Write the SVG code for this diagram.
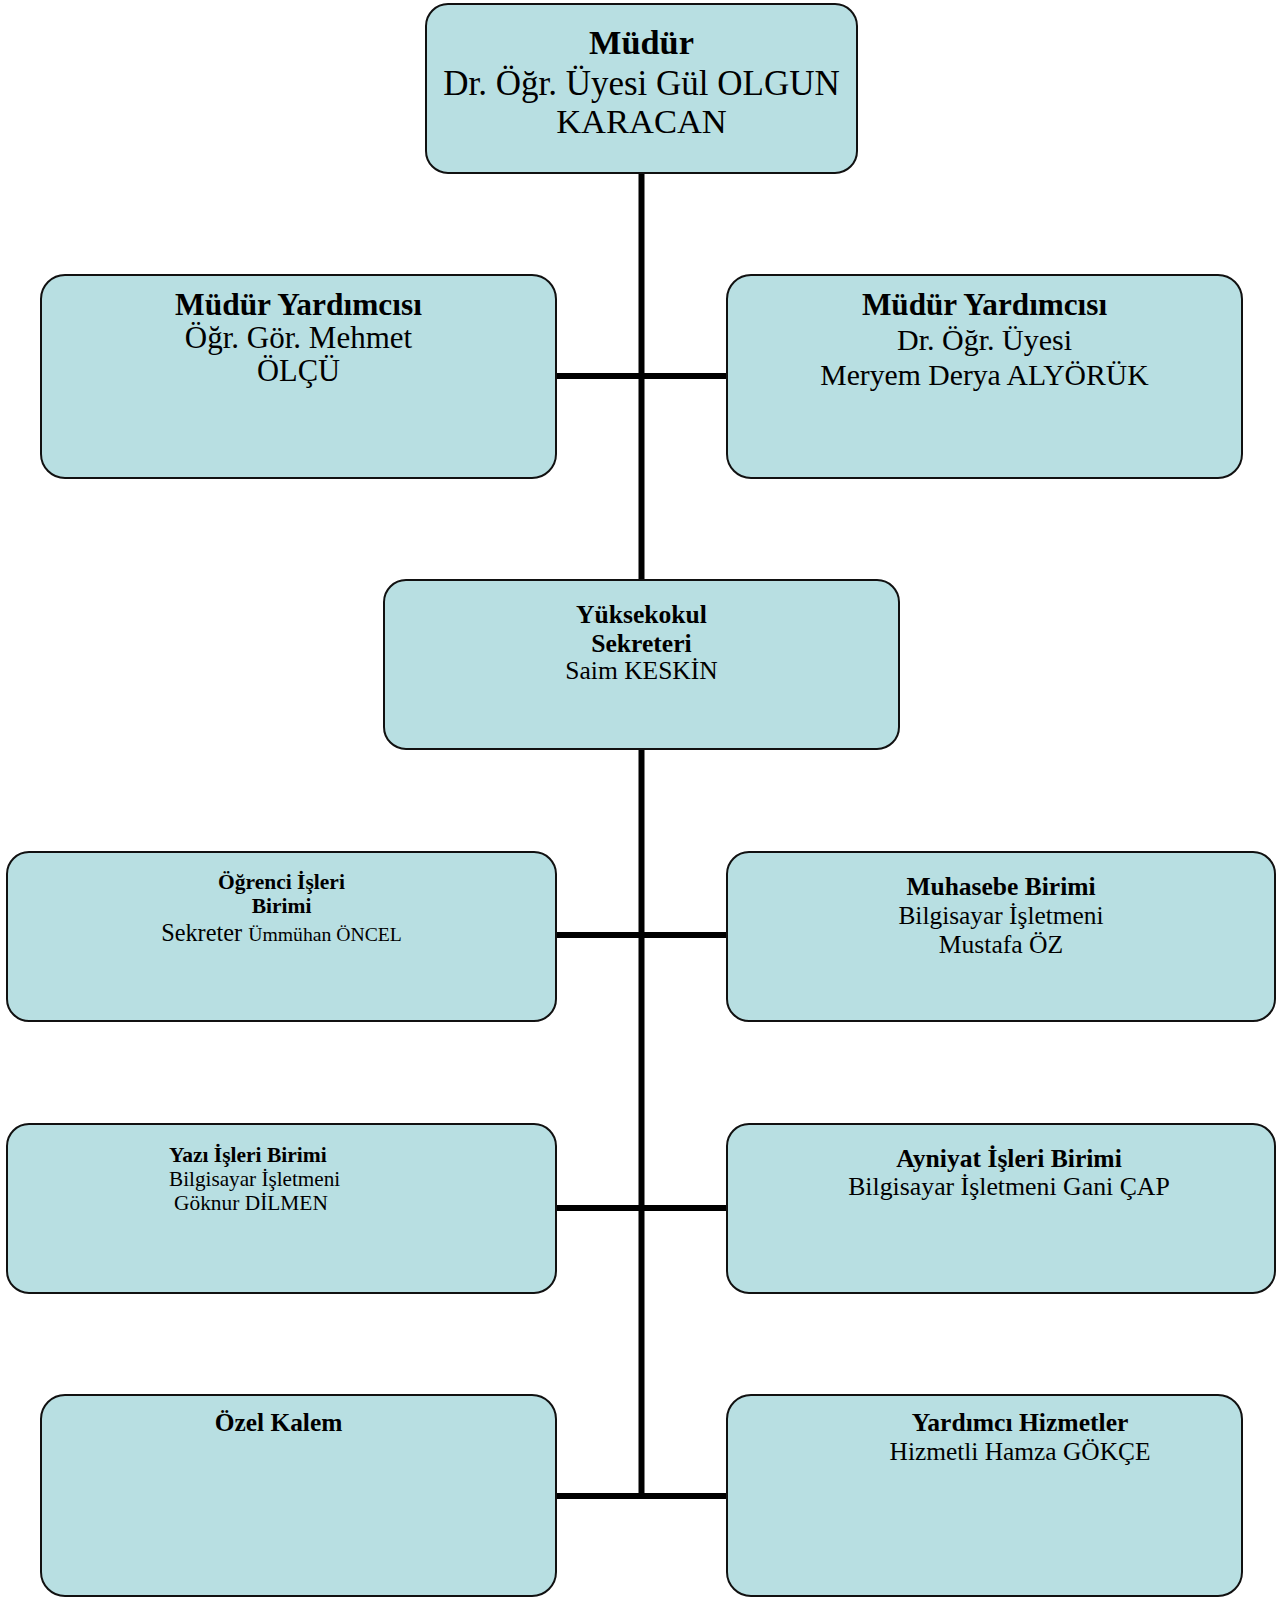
<svg xmlns="http://www.w3.org/2000/svg" width="1278" height="1597" viewBox="0 0 1278 1597">
<style>
.box{fill:#b8dfe2;stroke:#111;stroke-width:2}
.t{font-family:"Liberation Serif","Times New Roman",serif;fill:#000;text-anchor:middle}
.s{text-anchor:start}
.b{font-weight:bold}
.conn{stroke:#000;stroke-width:6;fill:none}
</style>
<rect width="1278" height="1597" fill="#fff"/>
<g id="connectors">
<line class="conn" x1="641.5" y1="172" x2="641.5" y2="580"/>
<line class="conn" x1="641.5" y1="748" x2="641.5" y2="1499"/>
<line class="conn" x1="556" y1="376" x2="727" y2="376"/>
<line class="conn" x1="556" y1="935" x2="727" y2="935"/>
<line class="conn" x1="556" y1="1208" x2="727" y2="1208"/>
<line class="conn" x1="556" y1="1496" x2="727" y2="1496"/>
</g>
<g id="mudur">
<rect class="box" x="426" y="4" width="431" height="169" rx="22"/>
<text class="t b" x="641.5" y="54" font-size="34.3">Müdür</text>
<text class="t" x="641.5" y="95" font-size="35">Dr. Öğr. Üyesi Gül OLGUN</text>
<text class="t" x="641.5" y="133" font-size="34.5">KARACAN</text>
</g>
<g id="mudur-yrd-1">
<rect class="box" x="41" y="275" width="515" height="203" rx="24"/>
<text class="t b" x="298.5" y="315" font-size="31.4">Müdür Yardımcısı</text>
<text class="t" x="298.5" y="348" font-size="31">Öğr. Gör. Mehmet</text>
<text class="t" x="298.5" y="381" font-size="30.5">ÖLÇÜ</text>
</g>
<g id="mudur-yrd-2">
<rect class="box" x="727" y="275" width="515" height="203" rx="24"/>
<text class="t b" x="984.5" y="315" font-size="31.2">Müdür Yardımcısı</text>
<text class="t" x="984.5" y="350" font-size="30">Dr. Öğr. Üyesi</text>
<text class="t" x="984.5" y="385" font-size="29.7">Meryem Derya ALYÖRÜK</text>
</g>
<g id="sekreter">
<rect class="box" x="384" y="580" width="515" height="169" rx="22"/>
<text class="t b" x="641.5" y="623" font-size="25.6">Yüksekokul</text>
<text class="t b" x="641.5" y="652" font-size="25.6">Sekreteri</text>
<text class="t" x="641.5" y="679" font-size="25.5">Saim KESKİN</text>
</g>
<g id="ogrenci-isleri">
<rect class="box" x="7" y="852" width="549" height="169" rx="22"/>
<text class="t b" x="281.5" y="889" font-size="21.5">Öğrenci İşleri</text>
<text class="t b" x="281.5" y="913" font-size="21.5">Birimi</text>
<text class="t" x="281.5" y="941"><tspan font-size="24.3">Sekreter </tspan><tspan font-size="19.7">Ümmühan ÖNCEL</tspan></text>
</g>
<g id="muhasebe">
<rect class="box" x="727" y="852" width="548" height="169" rx="22"/>
<text class="t b" x="1001" y="894.5" font-size="25.5">Muhasebe Birimi</text>
<text class="t" x="1001" y="924" font-size="25.4">Bilgisayar İşletmeni</text>
<text class="t" x="1001" y="952.5" font-size="25.6">Mustafa ÖZ</text>
</g>
<g id="yazi-isleri">
<rect class="box" x="7" y="1124" width="549" height="169" rx="22"/>
<text class="t b s" x="169" y="1162" font-size="21.5">Yazı İşleri Birimi</text>
<text class="t s" x="169" y="1186" font-size="21.2">Bilgisayar İşletmeni</text>
<text class="t s" x="174" y="1210" font-size="21.4">Göknur DİLMEN</text>
</g>
<g id="ayniyat">
<rect class="box" x="727" y="1124" width="548" height="169" rx="22"/>
<text class="t b" x="1009" y="1166.5" font-size="25.6">Ayniyat İşleri Birimi</text>
<text class="t" x="1009" y="1195" font-size="25.8">Bilgisayar İşletmeni Gani ÇAP</text>
</g>
<g id="ozel-kalem">
<rect class="box" x="41" y="1395" width="515" height="201" rx="24"/>
<text class="t b" x="278.5" y="1431" font-size="25.4">Özel Kalem</text>
</g>
<g id="yardimci-hizmetler">
<rect class="box" x="727" y="1395" width="515" height="201" rx="24"/>
<text class="t b" x="1020" y="1431" font-size="25.6">Yardımcı Hizmetler</text>
<text class="t" x="1020" y="1460" font-size="25.4">Hizmetli Hamza GÖKÇE</text>
</g>
</svg>
